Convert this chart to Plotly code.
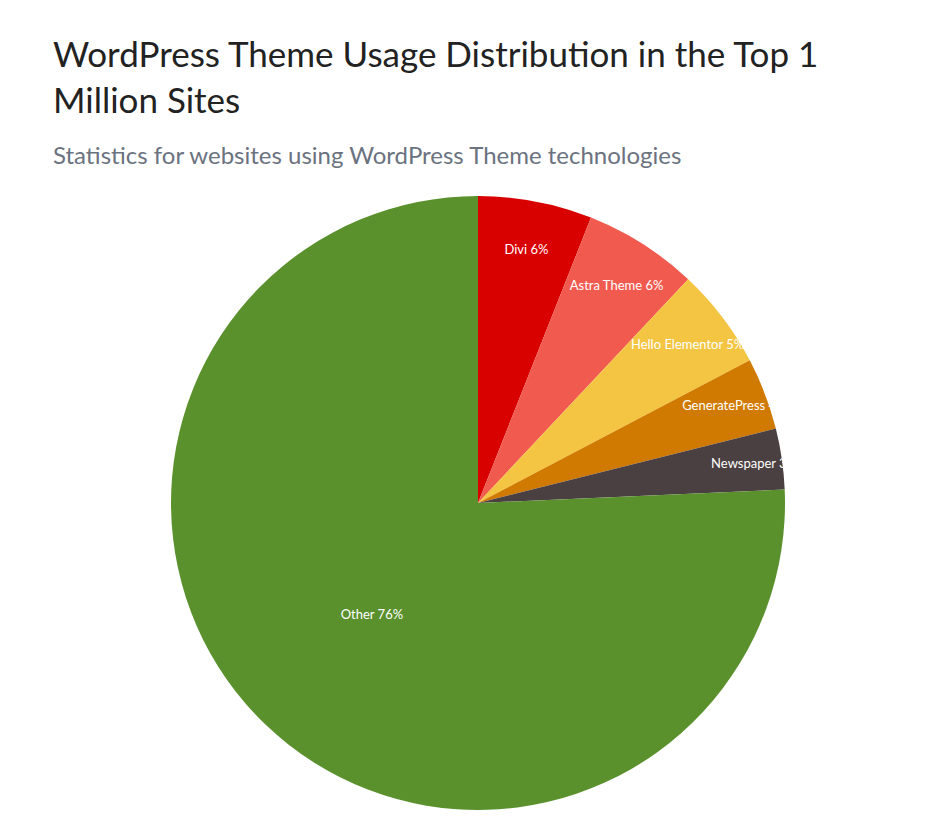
import plotly.graph_objects as go

# Theme share of WordPress sites (percent)
themes = ['Divi', 'Astra Theme', 'Hello Elementor', 'GeneratePress', 'Newspaper', 'Other']
shares = [6.0, 6.0, 5.3, 3.8, 3.2, 75.7]
colors = ['#d90000', '#f05a4f', '#f4c542', '#d17a02', '#4a3f41', '#5a912d']

fig = go.Figure(go.Pie(
    labels=themes,
    values=shares,
    sort=False,
    direction='clockwise',
    rotation=0,
    marker=dict(colors=colors),
    texttemplate='%{label} %{percent:.0%}',
    textposition='inside',
    insidetextorientation='horizontal',
    textfont=dict(color='white', size=13, family='Lato'),
    showlegend=False,
    hoverinfo='label+percent',
))

fig.update_layout(
    width=943, height=837,
    paper_bgcolor='white',
    font=dict(family='Lato'),
    margin=dict(l=163, r=166, t=188, b=35),
    uniformtext=dict(minsize=12, mode='show'),
    annotations=[
        dict(text='WordPress Theme Usage Distribution in the Top 1<br>Million Sites',
             xref='paper', yref='paper', x=-0.195, y=1.27, xanchor='left', yanchor='top',
             align='left', showarrow=False, font=dict(size=35, color='#222222')),
        dict(text='Statistics for websites using WordPress Theme technologies',
             xref='paper', yref='paper', x=-0.195, y=1.095, xanchor='left', yanchor='top',
             align='left', showarrow=False, font=dict(size=24, color='#6b7280')),
    ],
)

fig.write_html("out.html")
